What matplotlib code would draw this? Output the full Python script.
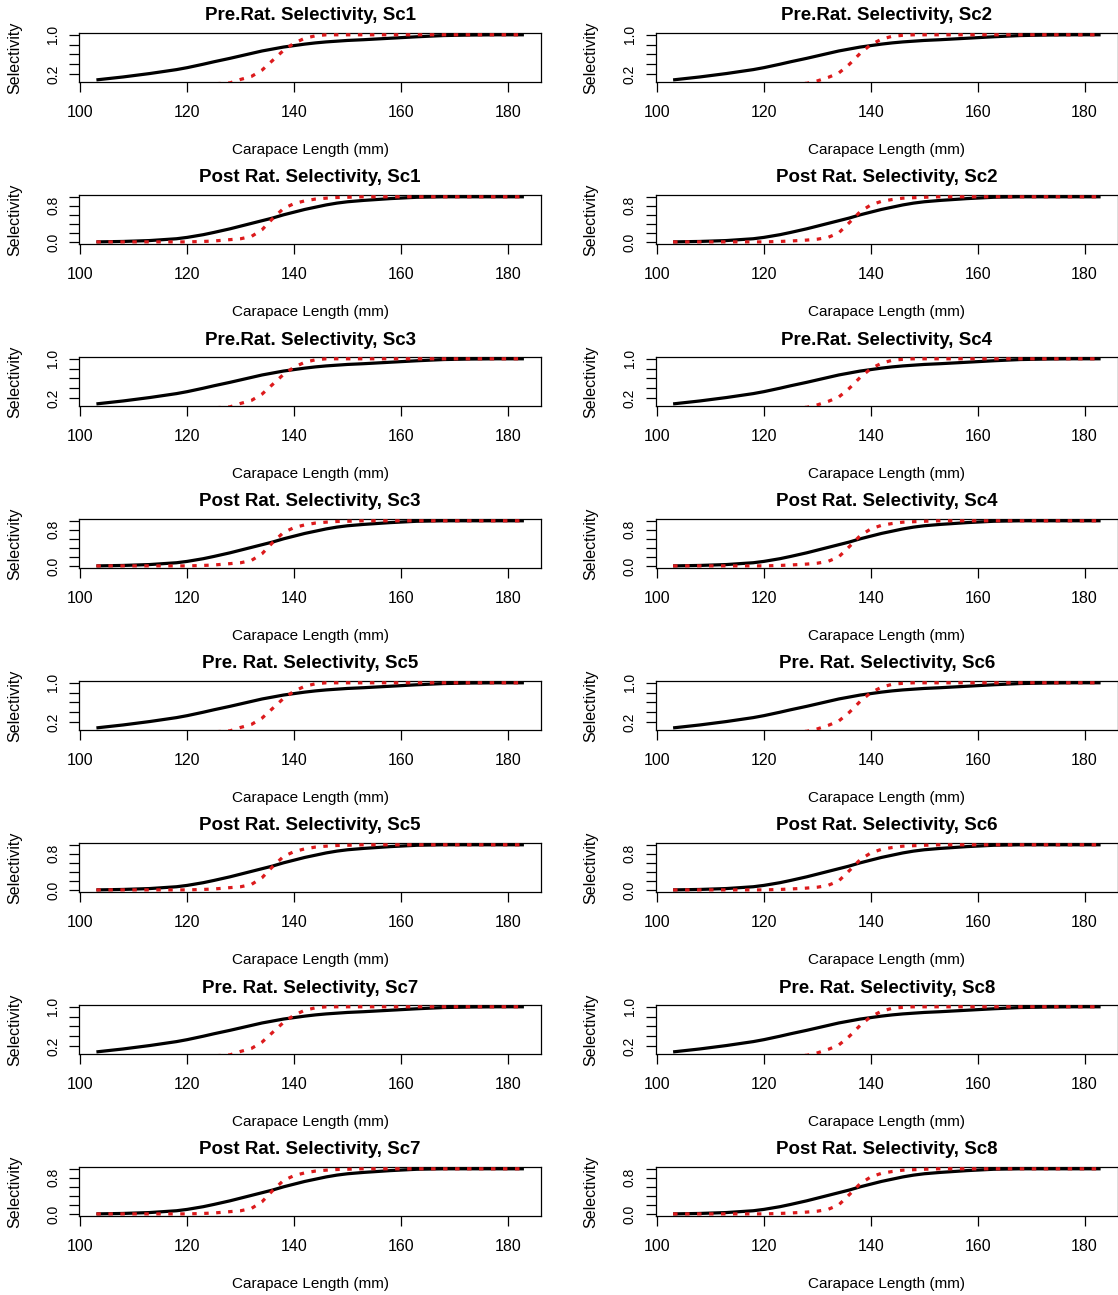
import matplotlib
matplotlib.use("Agg")
import matplotlib.pyplot as plt

plt.rcParams['font.family'] = ['Liberation Sans', 'DejaVu Sans']

# carapace length grid (mm)
length = [103, 108, 113, 118, 120, 123, 125, 128, 130, 132, 134, 136, 138,
          140, 142, 144, 146, 148, 150, 153, 158, 163, 168, 173, 178, 183]

# pre-ratification selectivity
pre_black = [0.08, 0.14, 0.21, 0.29, 0.33, 0.40, 0.45, 0.52, 0.57, 0.62, 0.67, 0.71, 0.75,
             0.78, 0.81, 0.835, 0.855, 0.87, 0.885, 0.90, 0.93, 0.96, 0.985, 0.995, 1.0, 1.0]
pre_red_odd = [0, 0, 0, 0, 0, 0, 0, 0.02, 0.09, 0.15, 0.28, 0.48, 0.68,
               0.83, 0.93, 0.98, 1.0, 1.0, 1.0, 1.0, 1.0, 1.0, 1.0, 1.0, 1.0, 1.0]
pre_red_even = [0, 0, 0, 0, 0, 0, 0, 0.01, 0.06, 0.13, 0.22, 0.40, 0.62,
                0.80, 0.91, 0.97, 0.99, 1.0, 1.0, 1.0, 1.0, 1.0, 1.0, 1.0, 1.0, 1.0]

# post-ratification selectivity
post_black = [0.0, 0.01, 0.03, 0.07, 0.10, 0.16, 0.21, 0.29, 0.35, 0.41, 0.47, 0.53, 0.60,
              0.66, 0.72, 0.77, 0.82, 0.86, 0.89, 0.92, 0.96, 0.99, 1.0, 1.0, 1.0, 1.0]
post_red_odd = [0, 0, 0, 0, 0.0, 0.01, 0.02, 0.05, 0.07, 0.12, 0.27, 0.52, 0.74,
                0.85, 0.91, 0.95, 0.97, 0.985, 0.99, 1.0, 1.0, 1.0, 1.0, 1.0, 1.0, 1.0]
post_red_even = [0, 0, 0, 0, 0.0, 0.01, 0.02, 0.04, 0.06, 0.10, 0.20, 0.43, 0.67,
                 0.82, 0.90, 0.94, 0.97, 0.98, 0.99, 1.0, 1.0, 1.0, 1.0, 1.0, 1.0, 1.0]

titles_left = ["Pre.Rat. Selectivity, Sc1", "Post Rat. Selectivity, Sc1",
               "Pre.Rat. Selectivity, Sc3", "Post Rat. Selectivity, Sc3",
               "Pre. Rat. Selectivity, Sc5", "Post Rat. Selectivity, Sc5",
               "Pre. Rat. Selectivity, Sc7", "Post Rat. Selectivity, Sc7"]
titles_right = ["Pre.Rat. Selectivity, Sc2", "Post Rat. Selectivity, Sc2",
                "Pre.Rat. Selectivity, Sc4", "Post Rat. Selectivity, Sc4",
                "Pre. Rat. Selectivity, Sc6", "Post Rat. Selectivity, Sc6",
                "Pre. Rat. Selectivity, Sc8", "Post Rat. Selectivity, Sc8"]

x_ticks = [100, 120, 140, 160, 180]
pre_yticks = [0.2, 0.4, 0.6, 0.8, 1.0]
pre_ylabels = ["0.2", "", "", "", "1.0"]
post_yticks = [0.0, 0.2, 0.4, 0.6, 0.8, 1.0]
post_ylabels = ["0.0", "", "", "", "0.8", ""]

W, H = 1118, 1295
fig = plt.figure(figsize=(W / 100, H / 100), dpi=100)

col_left = [79.3, 656]
box_w = 461.7
box_h = 48.7


def draw(ax, black, red, post, title):
    ax.plot(length, black, color='black', lw=2.3, solid_capstyle='butt', zorder=2)
    ax.plot(length, red, color='#dc1a1c', lw=2.3, linestyle=(0, (1.4, 2.35)),
            dash_capstyle='butt', zorder=3)
    # R style 4% padding
    xr = max(length) - min(length)
    ax.set_xlim(min(length) - 0.04 * xr, max(length) + 0.04 * xr)
    lo, hi = min(black), max(black)
    ax.set_ylim(lo - 0.04 * (hi - lo), hi + 0.04 * (hi - lo))

    ax.set_xticks(x_ticks)
    ax.set_xticklabels([str(v) for v in x_ticks], fontsize=11.5)
    if post:
        ax.set_yticks(post_yticks)
        ax.set_yticklabels(post_ylabels, fontsize=10, rotation=90, va='center')
    else:
        ax.set_yticks(pre_yticks)
        ax.set_yticklabels(pre_ylabels, fontsize=10, rotation=90, va='center')
    ax.tick_params(axis='x', length=7, width=0.9, pad=9.5)
    ax.tick_params(axis='y', length=7, width=0.9, pad=6.7)
    for s in ax.spines.values():
        s.set_linewidth(0.9)

    ax.set_title(title, fontsize=13.5, fontweight='bold', pad=9)
    ax.set_xlabel('Carapace Length (mm)', fontsize=11)
    ax.xaxis.set_label_coords(0.5, -61.5 / box_h)
    ax.set_ylabel('Selectivity', fontsize=11.5)
    ax.yaxis.set_label_coords(-57.3 / box_w, 0.5)


for row in range(8):
    top = 33 + 162 * row
    post = row % 2 == 1
    for col in range(2):
        ax = fig.add_axes([col_left[col] / W, 1 - (top + box_h) / H, box_w / W, box_h / H])
        if post:
            black = post_black
            red = post_red_odd if col == 0 else post_red_even
        else:
            black = pre_black
            red = pre_red_odd if col == 0 else pre_red_even
        title = titles_left[row] if col == 0 else titles_right[row]
        draw(ax, black, red, post, title)

plt.savefig("out.png", dpi=100)
plt.close()
